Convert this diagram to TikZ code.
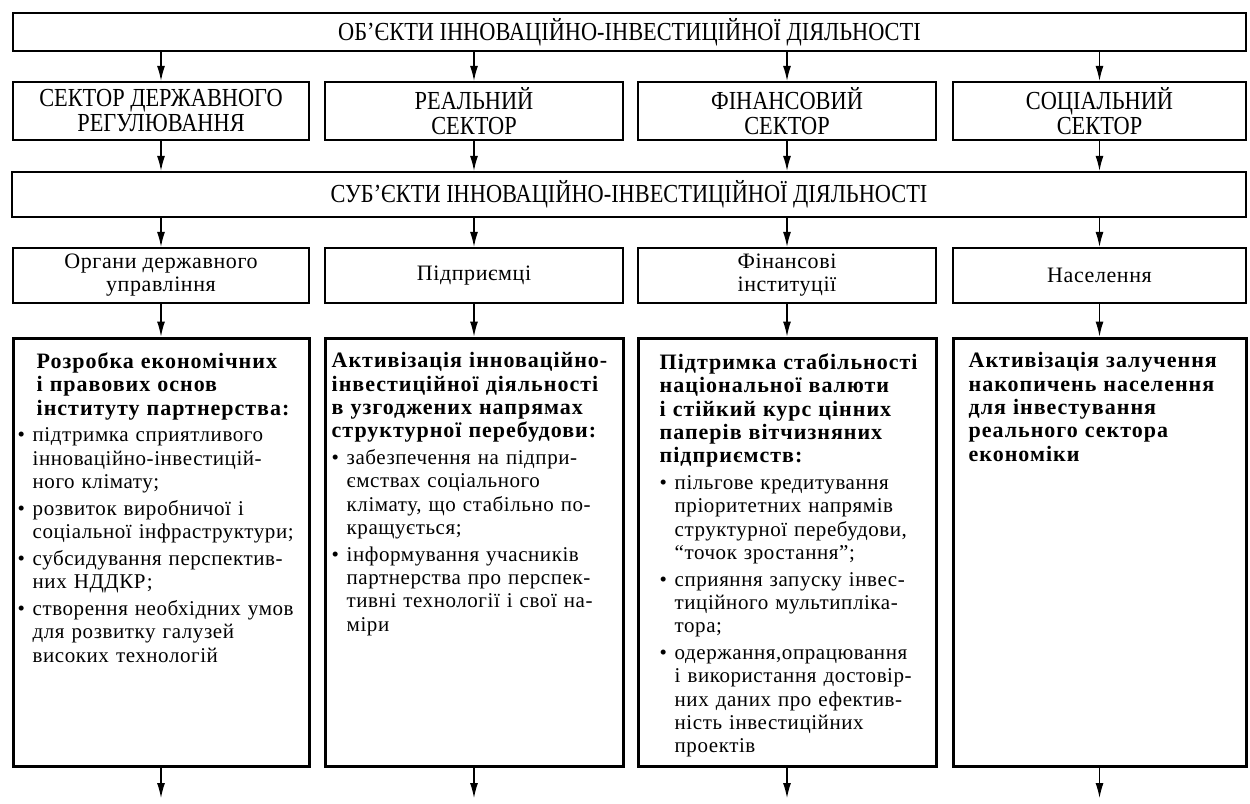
\documentclass[tikz,border=0pt]{standalone}
\usepackage{fontspec}
\setmainfont{Liberation Serif}
\newfontfamily\capfont[FakeStretch=0.86]{Liberation Serif}
\newfontfamily\bodyfont[LetterSpace=2.7]{Liberation Serif}
\newfontfamily\headfont[LetterSpace=4.5]{Liberation Serif}
\usetikzlibrary{arrows.meta}

% type switches for the list boxes
\newcommand\hd{\headfont\bfseries\fontsize{22}{23.3}\selectfont}
\newcommand\bd{\bodyfont\mdseries\fontsize{21}{23.3}\selectfont}
% bullet and hanging indent for the list lines
\newcommand\bul{\makebox[15pt][l]{\textbullet}}
\newcommand\ind{\hspace*{15pt}}
\newcommand\gap{\\[3.5pt]}

\begin{document}
\begin{tikzpicture}[x=1pt,y=-1pt,
  frame/.style={draw, line width=2.3pt, inner sep=0pt, align=center},
  bigframe/.style={draw, line width=3pt, inner sep=0pt},
  link/.style={line width=1.2pt, -{Latex[length=15pt,width=8pt]}},
  capsfont/.style={font=\capfont\fontsize{26}{25}\selectfont},
  smallfont/.style={font=\bodyfont\fontsize{22}{23}\selectfont},
  listtext/.style={anchor=north west, inner sep=0pt, text width=300pt,
    align=left, font=\bd},
]
\useasboundingbox (0,0) rectangle (1250,803);

% objects
\node[frame, capsfont, minimum width=1233pt, minimum height=38pt] (obj) at (629.5,32)
  {ОБ’ЄКТИ ІННОВАЦІЙНО-ІНВЕСТИЦІЙНОЇ ДІЯЛЬНОСТІ};

% sectors
\node[frame, capsfont, minimum width=296pt, minimum height=58pt] (s1) at (161,111)
  {СЕКТОР ДЕРЖАВНОГО\\РЕГУЛЮВАННЯ};
\node[frame, capsfont, minimum width=298pt, minimum height=58pt] (s2) at (474,111)
  {РЕАЛЬНИЙ\\СЕКТОР};
\node[frame, capsfont, minimum width=298pt, minimum height=58pt] (s3) at (787,111)
  {ФІНАНСОВИЙ\\СЕКТОР};
\node[frame, capsfont, minimum width=293pt, minimum height=58pt] (s4) at (1099.5,111)
  {СОЦІАЛЬНИЙ\\СЕКТОР};

% subjects
\node[frame, capsfont, minimum width=1234pt, minimum height=45pt] (subj) at (629,194.5)
  {СУБ’ЄКТИ ІННОВАЦІЙНО-ІНВЕСТИЦІЙНОЇ ДІЯЛЬНОСТІ};

% participants
\node[frame, smallfont, minimum width=296pt, minimum height=55pt] (p1) at (161,275.5)
  {Органи державного\\управління};
\node[frame, smallfont, minimum width=298pt, minimum height=55pt] (p2) at (474,275.5)
  {Підприємці};
\node[frame, smallfont, minimum width=298pt, minimum height=55pt] (p3) at (787,275.5)
  {Фінансові\\інституції};
\node[frame, smallfont, minimum width=293pt, minimum height=55pt] (p4) at (1099.5,275.5)
  {Населення};

% directions
\node[bigframe, minimum width=296pt, minimum height=428pt] (d1) at (161,552) {};
\node[bigframe, minimum width=298pt, minimum height=428pt] (d2) at (474,552) {};
\node[bigframe, minimum width=298pt, minimum height=428pt] (d3) at (787,552) {};
\node[bigframe, minimum width=293pt, minimum height=428pt] (d4) at (1099.5,552) {};

\node[listtext] (t1) at ([xshift=6pt,yshift=-16pt]d1.north west) {%
\hd\hspace*{19pt}Розробка економічних\\
\hspace*{19pt}і правових основ\\
\hspace*{19pt}інституту партнерства:\gap
\bd\bul підтримка сприятливого\\
\ind інноваційно-інвестицій-\\
\ind ного клімату;\gap
\bul розвиток виробничої і\\
\ind соціальної інфраструктури;\gap
\bul субсидування перспектив-\\
\ind них НДДКР;\gap
\bul створення необхідних умов\\
\ind для розвитку галузей\\
\ind високих технологій};

\node[listtext] (t2) at ([xshift=8pt,yshift=-16pt]d2.north west) {%
\hd Активізація інноваційно-\\
інвестиційної діяльності\\
в узгоджених напрямах\\
структурної перебудови:\gap
\bd\bul забезпечення на підпри-\\
\ind ємствах соціального\\
\ind клімату, що стабільно по-\\
\ind кращується;\gap
\bul інформування учасників\\
\ind партнерства про перспек-\\
\ind тивні технології і свої на-\\
\ind міри};

\node[listtext] (t3) at ([xshift=23pt,yshift=-17pt]d3.north west) {%
\hd Підтримка стабільності\\
національної валюти\\
і стійкий курс цінних\\
паперів вітчизняних\\
підприємств:\gap
\bd\bul пільгове кредитування\\
\ind пріоритетних напрямів\\
\ind структурної перебудови,\\
\ind “точок зростання”;\gap
\bul сприяння запуску інвес-\\
\ind тиційного мультипліка-\\
\ind тора;\gap
\bul одержання,опрацювання\\
\ind і використання достовір-\\
\ind них даних про ефектив-\\
\ind ність інвестиційних\\
\ind проектів};

\node[listtext] (t4) at ([xshift=17pt,yshift=-16pt]d4.north west) {%
\hd Активізація залучення\\
накопичень населення\\
для інвестування\\
реального сектора\\
економіки};

% free ends of the outgoing arrows
\coordinate (e1) at (161,798);
\coordinate (e2) at (474,798);
\coordinate (e3) at (787,798);
\coordinate (e4) at (1099.5,798);

% connectors
\foreach \i in {1,2,3,4} {
  \draw[link] (obj.south -| s\i) -- (s\i.north);
  \draw[link] (s\i.south) -- (subj.north -| s\i);
  \draw[link] (subj.south -| p\i) -- (p\i.north);
  \draw[link] (p\i.south) -- (d\i.north);
  \draw[link] (d\i.south) -- (e\i);
}
\end{tikzpicture}
\end{document}
